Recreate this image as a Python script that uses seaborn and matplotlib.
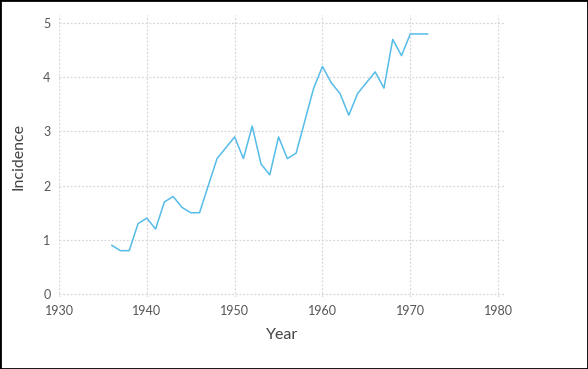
import matplotlib
matplotlib.use("Agg")
import matplotlib.pyplot as plt
import seaborn as sns
import pandas as pd

years = [1936, 1937, 1938, 1939, 1940, 1941, 1942, 1943, 1944, 1945, 1946, 1947,
         1948, 1949, 1950, 1951, 1952, 1953, 1954, 1955, 1956, 1957, 1958, 1959,
         1960, 1961, 1962, 1963, 1964, 1965, 1966, 1967, 1968, 1969, 1970, 1971, 1972]
incidence = [0.9, 0.8, 0.8, 1.3, 1.4, 1.2, 1.7, 1.8, 1.6, 1.5, 1.5, 2.0,
             2.5, 2.7, 2.9, 2.5, 3.1, 2.4, 2.2, 2.9, 2.5, 2.6, 3.2, 3.8,
             4.2, 3.9, 3.7, 3.3, 3.7, 3.9, 4.1, 3.8, 4.7, 4.4, 4.8, 4.8, 4.8]
x_ticks = [1930, 1940, 1950, 1960, 1970, 1980]
y_ticks = [0, 1, 2, 3, 4, 5]

df = pd.DataFrame({"Year": years, "Incidence": incidence})

sns.set_theme(style="white")
plt.rcParams['font.family'] = ['Lato', 'DejaVu Sans']

fig = plt.figure(figsize=(5.88, 3.69), dpi=100)
W, H = 588, 369
ax = fig.add_axes([59 / W, 1 - 297 / H, (506 - 59) / W, (297 - 15) / H])

sns.lineplot(data=df, x="Year", y="Incidence", ax=ax, color="#56BCE8", linewidth=1.1)

ax.set_xlim(1930, 1980.9)
ax.set_ylim(-0.055, 5.15)
ax.set_xticks(x_ticks)
ax.set_yticks(y_ticks)
ax.grid(True, color="#d6d6dc", linestyle=(0, (1.5, 1.5)), linewidth=0.9)
for s in ax.spines.values():
    s.set_visible(False)
ax.tick_params(axis="both", length=0, labelsize=9, colors="#555555", pad=6)
ax.set_xlabel("Year", fontsize=11.5, color="#444444", labelpad=8)
ax.set_ylabel("Incidence", fontsize=11.5, color="#444444", labelpad=13)

border = plt.Rectangle((0, 0), 1, 1, transform=fig.transFigure, fill=False,
                       edgecolor="black", linewidth=2, zorder=10)
fig.patches.append(border)

fig.savefig("out.png", dpi=100)
